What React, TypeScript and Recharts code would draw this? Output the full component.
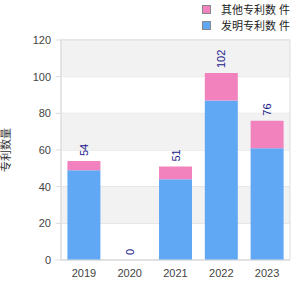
import React from 'react';
import { ComposedChart, Bar, Line, XAxis, YAxis, CartesianGrid, ReferenceArea } from 'recharts';

const years = ['2019', '2020', '2021', '2022', '2023'];
const blueValues = [49, 0, 44, 87, 61];
const pinkValues = [5, 0, 7, 15, 15];
const yTicks = [0, 20, 40, 60, 80, 100, 120];
const blueName = '发明专利数 件';
const pinkName = '其他专利数 件';
const yLabel = '专利数量';

const BLUE = '#60a8f4';
const PINK = '#f282be';
const FONT = '"Liberation Sans", Arial, "Noto Sans CJK SC", sans-serif';

const data = years.map((y, i) => ({
  year: y,
  blue: blueValues[i],
  pink: pinkValues[i],
  total: blueValues[i] + pinkValues[i],
}));

const TotalLabel = (props: any) => {
  const { x, y, value } = props;
  const cx = Number(x);
  const ty = Number(y) - 5;
  return (
    <text
      x={cx}
      y={ty}
      transform={`rotate(-90 ${cx} ${ty})`}
      textAnchor="start"
      dominantBaseline="central"
      fill="#1a1a8a"
      fontSize={11}
      fontFamily={FONT}
    >
      {value}
    </text>
  );
};

const YLabel = (props: any) => {
  const { viewBox } = props;
  const cy = viewBox.y + viewBox.height / 2;
  const cx = 6;
  return (
    <text
      x={cx}
      y={cy}
      transform={`rotate(-90 ${cx} ${cy})`}
      textAnchor="middle"
      dominantBaseline="central"
      fill="#333"
      fontSize={11}
      fontFamily={FONT}
    >
      {yLabel}
    </text>
  );
};

const LegendBox = () => (
  <div style={{ position: 'absolute', left: 202, top: 1, fontFamily: FONT, fontSize: 11, color: '#222' }}>
    {[
      { name: pinkName, color: PINK },
      { name: blueName, color: BLUE },
    ].map((it) => (
      <div key={it.name} style={{ display: 'flex', alignItems: 'center', height: 16 }}>
        <span
          style={{
            display: 'inline-block',
            width: 7,
            height: 7,
            background: it.color,
            border: '1px solid #888',
            marginRight: 10,
          }}
        />
        <span>{it.name}</span>
      </div>
    ))}
  </div>
);

export default function App() {
  return (
    <div style={{ position: 'absolute', left: 0, top: 0, width: 300, height: 300, background: '#fff' }}>
      <ComposedChart
        width={300}
        height={300}
        data={data}
        margin={{ top: 40, right: 10, bottom: 10, left: 0 }}
        barCategoryGap="14%"
      >
        <ReferenceArea y1={100} y2={120} fill="#f2f2f2" fillOpacity={1} stroke="none" />
        <ReferenceArea y1={60} y2={80} fill="#f2f2f2" fillOpacity={1} stroke="none" />
        <ReferenceArea y1={20} y2={40} fill="#f2f2f2" fillOpacity={1} stroke="none" />
        <CartesianGrid vertical={false} stroke="#dddddd" />
        <ReferenceArea y1={0} y2={120} fill="none" stroke="#dddddd" strokeWidth={1} />
        <XAxis
          dataKey="year"
          height={30}
          tickLine={false}
          axisLine={{ stroke: '#dddddd' }}
          tick={{ fill: '#444', fontSize: 11, fontFamily: FONT }}
          tickSize={5}
          tickMargin={4}
        />
        <YAxis
          width={61}
          domain={[0, 120]}
          ticks={yTicks}
          interval={0}
          axisLine={{ stroke: '#dddddd' }}
          tickLine={{ stroke: '#dddddd' }}
          tickSize={5}
          tickMargin={5}
          tick={{ fill: '#444', fontSize: 11, fontFamily: FONT }}
          label={<YLabel />}
        />
        <Bar dataKey="blue" stackId="a" fill={BLUE} isAnimationActive={false} name={blueName} />
        <Bar dataKey="pink" stackId="a" fill={PINK} isAnimationActive={false} name={pinkName} />
        <Line
          dataKey="total"
          stroke="none"
          dot={false}
          activeDot={false}
          legendType="none"
          isAnimationActive={false}
          label={<TotalLabel />}
        />
      </ComposedChart>
      <LegendBox />
    </div>
  );
}
